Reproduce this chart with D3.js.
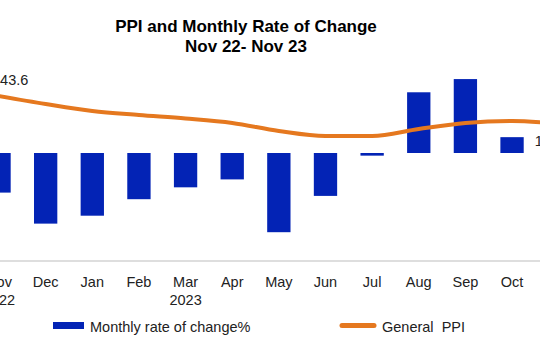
<!DOCTYPE html>
<html>
<head>
<meta charset="utf-8">
<script src="https://cdn.jsdelivr.net/npm/d3@7"></script>
<style>
	body{margin:0;background:#fff;}
	svg{display:block;font-family:"Liberation Sans",Arial,sans-serif;}
</style>
</head>
<body>
<div id="chart"></div>
<script>
const months = ["Nov","Dec","Jan","Feb","Mar","Apr","May","Jun","Jul","Aug","Sep","Oct","Nov "];
const years = ["2022","","","","2023","","","","","","","",""];
const rate = [-0.6,-1.07,-0.95,-0.7,-0.52,-0.4,-1.2,-0.65,-0.04,0.92,1.12,0.24,0.3];
const ppi = [143.6,142.8,142.1,141.7,141.35,140.9,140.1,139.6,139.6,140.3,140.9,141.1,140.85];
const ppiLabels = ["143.6","","","","","","","","","","","","140.9"];

const W = 540, H = 360;
const svg = d3.select("#chart").append("svg")
	.attr("width",W).attr("height",H)
	.attr("viewBox","0 0 "+W+" "+H);

const X = d3.scaleBand().domain(d3.range(months.length)).range([-24.3,582]).padding(0);
const Yr = d3.scaleLinear().domain([-1.6,1.6]).range([258.6,47.4]);
const Yp = d3.scaleLinear().domain([135,145]).range([182,82]);
const bw = X.bandwidth()*0.5;
const cx = i=>X(i)+X.bandwidth()/2;

// title
svg.append("text").attr("x",246).attr("y",32)
	.attr("text-anchor","middle").style("font-weight","bold").style("font-size","17px")
	.text("PPI and Monthly Rate of Change");
svg.append("text").attr("x",246).attr("y",52)
	.attr("text-anchor","middle").style("font-weight","bold").style("font-size","17px")
	.text("Nov 22- Nov 23");

// axis line
svg.append("line").attr("x1",0).attr("x2",W).attr("y1",261).attr("y2",261)
	.style("stroke","#bdbdbd").style("stroke-width",1);

// bars
svg.selectAll(".bar").data(rate).enter().append("rect")
	.attr("class","bar")
	.attr("x",(d,i)=>cx(i)-bw/2)
	.attr("y",d=>Math.min(Yr(d),Yr(0)))
	.attr("width",bw)
	.attr("height",d=>Math.abs(Yr(d)-Yr(0)))
	.style("fill","#0323b5");

// ppi line
const line = d3.line().x((d,i)=>cx(i)).y(d=>Yp(d)).curve(d3.curveMonotoneX);
svg.append("path").datum(ppi).attr("d",line)
	.style("fill","none").style("stroke","#e5781f").style("stroke-width",4)
	.style("stroke-linecap","round");

// ppi labels
svg.selectAll(".plab").data(ppi).enter().append("text")
	.attr("class","plab")
	.attr("x",(d,i)=>i==0 ? cx(i)-7 : cx(i)-24)
	.attr("y",(d,i)=>i==0 ? Yp(d)-11 : Yp(d)+22)
	.style("font-size","14.5px").style("fill","#222")
	.text((d,i)=>ppiLabels[i]);

// x tick labels
const ticks = svg.append("g");
ticks.selectAll(".m").data(months).enter().append("text")
	.attr("x",(d,i)=>cx(i)).attr("y",287)
	.attr("text-anchor","middle").style("font-size","14.5px").style("fill","#222")
	.text(d=>d.trim());
ticks.selectAll(".yr").data(years).enter().append("text")
	.attr("x",(d,i)=>cx(i)).attr("y",305)
	.attr("text-anchor","middle").style("font-size","14.5px").style("fill","#222")
	.text(d=>d);

// legend
svg.append("rect").attr("x",53).attr("y",322).attr("width",31).attr("height",7)
	.style("fill","#0323b5");
svg.append("text").attr("x",90).attr("y",332).style("font-size","14.5px").style("fill","#222")
	.text("Monthly rate of change%");
svg.append("line").attr("x1",342).attr("x2",374).attr("y1",325.5).attr("y2",325.5)
	.style("stroke","#e5781f").style("stroke-width",5).style("stroke-linecap","round");
svg.append("text").attr("x",382).attr("y",332).style("font-size","14.5px").style("fill","#222")
	.attr("xml:space","preserve")
	.text("General  PPI");
</script>
</body>
</html>
